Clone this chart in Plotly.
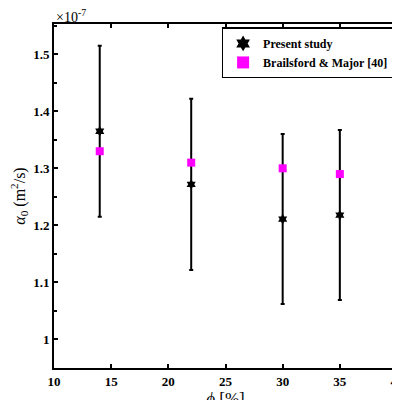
import plotly.graph_objects as go

phi = [14, 22, 30, 35]
alpha_present = [1.365, 1.272, 1.211, 1.218]   # x 1e-7
alpha_err = [0.150, 0.150, 0.149, 0.149]
alpha_bm = [1.330, 1.310, 1.300, 1.290]

x_ticks = [10, 15, 20, 25, 30, 35, 40]
y_ticks = [1, 1.1, 1.2, 1.3, 1.4, 1.5]

font = dict(family="Liberation Serif", size=13, color="black")

fig = go.Figure()
fig.add_trace(go.Scatter(
    x=phi, y=alpha_present, mode="markers", name="<b>Present study</b>",
    marker=dict(symbol="hexagram", size=8, color="black"),
    error_y=dict(type="data", array=alpha_err, color="black", thickness=2, width=2),
))
fig.add_trace(go.Scatter(
    x=phi, y=alpha_bm, mode="markers", name="<b>Brailsford & Major [40]</b>",
    marker=dict(symbol="square", size=8, color="#ff00ff"),
))

axis = dict(showgrid=False, zeroline=False, showline=True, linecolor="black", linewidth=2,
            mirror="ticks", ticks="inside", ticklen=4, tickwidth=1.5, tickcolor="black",
            automargin=False,
            tickfont=dict(family="Liberation Serif", size=13, color="black"))
fig.update_xaxes(axis, range=[10, 40], tickvals=x_ticks,
                 ticktext=[f"<b>{v}</b>" for v in x_ticks],
                 title=dict(text="<i>ϕ</i> [%]", font=dict(family="Liberation Serif", size=17), standoff=2))
fig.update_yaxes(axis, range=[0.95, 1.553], tickvals=y_ticks,
                 ticktext=[f"<b>{v:g}</b>" for v in y_ticks],
                 minor=dict(ticks="inside", ticklen=3, dtick=0.05, tickcolor="black"),
                 title=dict(text="<i>α</i><sub>0</sub> (m<sup>2</sup>/s)",
                            font=dict(family="Liberation Serif", size=16), standoff=4))

fig.add_annotation(x=0, y=1, xref="paper", yref="paper", xanchor="left", yanchor="bottom",
                   text="×10<sup>-7</sup>", showarrow=False,
                   font=dict(family="Liberation Serif", size=14, color="black"), yshift=-3)

fig.update_layout(
    width=400, height=400, plot_bgcolor="white", paper_bgcolor="white", font=font,
    margin=dict(l=46, r=11, t=16, b=40),
    legend=dict(x=0.993, y=0.99, xanchor="right", yanchor="top", bordercolor="black", borderwidth=1.5,
                bgcolor="white", font=dict(family="Liberation Serif", size=12, color="black"),
                tracegroupgap=0, itemsizing="constant", itemwidth=30),
)

fig.write_html("out.html")
